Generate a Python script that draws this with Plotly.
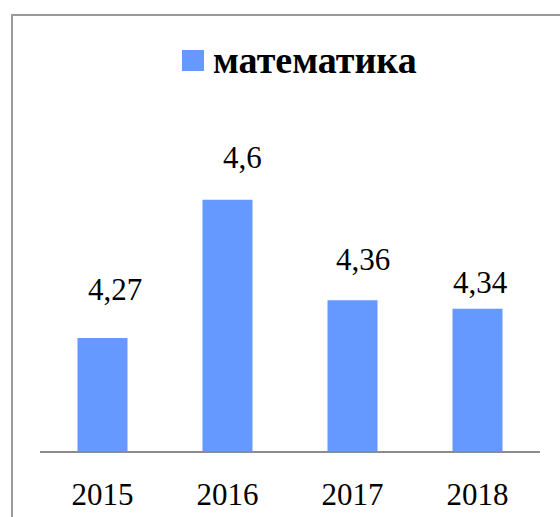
import plotly.graph_objects as go

# data
years = ['2015', '2016', '2017', '2018']
scores = [4.27, 4.6, 4.36, 4.34]
series_name = 'математика'

# label nudges (px), the source chart has hand-placed labels
label_dx = [12, 15, 10, 3]
label_dy = [48, 42, 41, 26]

bar_color = '#6699FF'
serif = 'Liberation Serif, Times New Roman, serif'

fig = go.Figure()
fig.add_trace(go.Bar(
    x=years,
    y=scores,
    name=series_name,
    marker=dict(color=bar_color, line=dict(width=0)),
    showlegend=False,
))

# value labels with decimal comma (category index, numeric-looking names confuse annotations)
for i, (v, dx, dy) in enumerate(zip(scores, label_dx, label_dy)):
    fig.add_annotation(
        x=i, y=v, text=f'{v}'.replace('.', ','),
        showarrow=False, xanchor='center', yanchor='middle',
        xshift=dx, yshift=dy,
        font=dict(family=serif, size=31, color='black'),
    )

# hand-made legend: square + bold caption
fig.add_shape(type='rect', xref='paper', yref='paper',
              x0=(182 - 40) / 500, x1=(204 - 40) / 500,
              y0=(451 - 71) / 335, y1=(451 - 50) / 335,
              fillcolor=bar_color, line=dict(width=0))
fig.add_annotation(
    xref='paper', yref='paper', x=(211 - 40) / 500, y=(451 - 60) / 335,
    text=f'<b>{series_name}</b>', showarrow=False,
    xanchor='left', yanchor='middle',
    font=dict(family=serif, size=38, color='black'),
)

# outer chart border
fig.add_shape(type='rect', xref='paper', yref='paper',
              x0=(12 - 40) / 500, x1=(570 - 40) / 500,
              y0=(451 - 530) / 335, y1=(451 - 15) / 335,
              line=dict(color='#9a9a9a', width=2), fillcolor='rgba(0,0,0,0)')

fig.update_layout(
    width=560, height=517,
    margin=dict(l=40, r=20, t=116, b=66),
    plot_bgcolor='white', paper_bgcolor='white',
    bargap=0.6,
    xaxis=dict(
        type='category', automargin=False, range=[-0.5, 3.5],
        showline=True, linecolor='#8c8c8c', linewidth=2,
        ticks='', ticklabelstandoff=15, showgrid=False,
        tickfont=dict(family=serif, size=31, color='black'),
    ),
    yaxis=dict(range=[4, 4.8], visible=False, showgrid=False, automargin=False),
)

fig.write_html('out.html', config={'displayModeBar': False},
               post_script="document.body.style.margin='0';")
